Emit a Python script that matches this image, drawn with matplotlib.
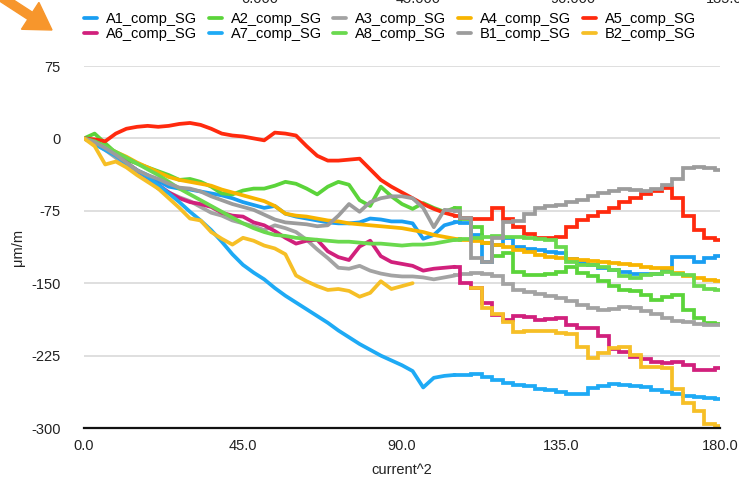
import numpy as np
import matplotlib
matplotlib.use("Agg")
import matplotlib.pyplot as plt
from matplotlib.patches import FancyArrow

plt.rcParams['font.family'] = ['Liberation Sans', 'DejaVu Sans']

# x values (current^2), one sample every 3 units
current_sq = np.arange(0, 181, 3)

A1 = [0, -4, -8, -19, -26, -33, -38, -44, -50, -52, -53, -55, -57, -59, -62, -66, -69, -72, -70, -78,
      -81, -83, -85, -87, -88, -88, -87, -83, -84, -86, -86, -88, -104, -100, -90, -87, -88, -100, -128, -110,
      -103, -112, -115, -116, -118, -119, -125, -129, -131, -134, -136, -138, -140, -140, -140, -136, -123, -123, -128, -124,
      -122]
A2 = [0, 5, -5, -15, -22, -26, -30, -34, -38, -43, -42, -45, -50, -57, -58, -54, -52, -52, -49, -45,
      -47, -52, -58, -50, -45, -48, -64, -70, -50, -60, -68, -73, -67, -72, -76, -72, -83, -92, -108, -122,
      -119, -138, -141, -141, -140, -138, -133, -139, -143, -148, -153, -157, -158, -162, -167, -164, -162, -178, -186, -191,
      -192]
A3 = [0, -5, -12, -20, -28, -35, -42, -52, -56, -61, -65, -71, -77, -80, -85, -88, -91, -95, -90, -93,
      -97, -105, -115, -124, -134, -135, -132, -137, -140, -142, -143, -143, -144, -146, -144, -142, -140, -139, -140, -143,
      -151, -157, -159, -161, -163, -165, -168, -173, -176, -178, -177, -175, -176, -179, -182, -186, -189, -190, -192, -193,
      -193]
A4 = [0, -4, -9, -14, -19, -25, -30, -35, -40, -43, -45, -47, -49, -53, -56, -59, -62, -65, -70, -78,
      -80, -81, -83, -85, -86, -88, -89, -90, -91, -92, -93, -95, -97, -100, -102, -104, -105, -106, -108, -110,
      -113, -116, -118, -121, -123, -124, -125, -126, -127, -128, -129, -130, -131, -133, -134, -134, -139, -143, -145, -147,
      -148]
A5 = [0, -1, -3, 5, 10, 12, 13, 12, 13, 15, 16, 14, 10, 5, 3, 2, 0, -2, 6, 5,
      3, -8, -18, -23, -23, -22, -21, -32, -43, -50, -56, -62, -68, -73, -77, -80, -82, -83, -84, -72,
      -84, -92, -99, -103, -103, -102, -92, -85, -80, -76, -72, -66, -62, -58, -55, -51, -62, -80, -95, -103,
      -105]
A6 = [0, -3, -11, -17, -25, -33, -40, -48, -56, -62, -66, -68, -71, -77, -80, -81, -87, -90, -96, -103,
      -109, -106, -105, -117, -123, -126, -112, -106, -122, -128, -130, -132, -137, -135, -134, -133, -150, -155, -170, -183,
      -188, -184, -185, -188, -187, -186, -193, -196, -196, -205, -218, -221, -226, -229, -232, -233, -232, -235, -240, -240,
      -238]
A7 = [0, -6, -12, -18, -26, -33, -40, -48, -57, -66, -76, -85, -95, -107, -120, -131, -139, -146, -155, -163,
      -170, -177, -184, -191, -199, -206, -213, -219, -225, -230, -235, -241, -258, -248, -246, -245, -245, -244, -247, -250,
      -253, -255, -257, -260, -261, -263, -265, -265, -259, -256, -254, -255, -256, -258, -261, -263, -265, -267, -268, -269,
      -270]
A8 = [0, -3, -8, -14, -20, -26, -32, -38, -45, -52, -58, -64, -70, -76, -82, -88, -93, -97, -100, -101,
      -103, -104, -105, -106, -107, -107, -108, -109, -109, -110, -111, -110, -110, -109, -107, -105, -104, -103, -102, -101,
      -102, -102, -103, -104, -105, -112, -128, -131, -131, -133, -136, -143, -145, -141, -140, -138, -140, -141, -153, -156,
      -157]
B1 = [0, -4, -10, -17, -25, -33, -38, -42, -47, -51, -52, -55, -60, -64, -68, -71, -74, -79, -84, -87,
      -88, -89, -91, -90, -80, -68, -76, -66, -62, -60, -60, -62, -72, -92, -74, -75, -82, -124, -128, -103,
      -87, -86, -78, -72, -70, -69, -66, -64, -60, -57, -55, -52, -53, -55, -52, -48, -42, -31, -30, -31,
      -33]
B2 = [0, -8, -27, -24, -30, -38, -45, -52, -62, -72, -83, -85, -97, -104, -110, -103, -106, -111, -114, -120,
      -142, -148, -153, -157, -156, -158, -164, -160, -148, -156, -153, -150, np.nan, np.nan, np.nan, np.nan, np.nan, -155, -176, -182,
      -190, -201, -199, -199, -200, -202, -203, -216, -228, -222, -217, -216, -224, -237, -237, -238, -260, -274, -282, -296,
      -298]

names = ['A1_comp_SG', 'A2_comp_SG', 'A3_comp_SG', 'A4_comp_SG', 'A5_comp_SG',
         'A6_comp_SG', 'A7_comp_SG', 'A8_comp_SG', 'B1_comp_SG', 'B2_comp_SG']
series = [A1, A2, A3, A4, A5, A6, A7, A8, B1, B2]
colors = ['#1A9EF2', '#5BD43A', '#A3A3A3', '#F8B400', '#FF2A0E',
          '#D1207C', '#1EAAF5', '#6AD94E', '#9C9C9C', '#F6BF26']

y_ticks = [-300, -225, -150, -75, 0, 75]
x_ticks = [0, 45, 90, 135, 180]
top_labels = ['0.000', '45.000', '90.000', '135.000']

fig = plt.figure(figsize=(7.39, 4.78), dpi=100)
ax = fig.add_axes([84 / 739, 1 - 428 / 478, (720 - 84) / 739, (428 - 66) / 478])

# the later part of the recording is coarser, so it is drawn as steps
split = 35
lines = {}
for name, vals, col in zip(names, series, colors):
    vals = np.array(vals, dtype=float)
    ln, = ax.plot(current_sq[:split + 1], vals[:split + 1], color=col, lw=2.7,
                  label=name, solid_joinstyle='round', solid_capstyle='round', zorder=3)
    ax.plot(current_sq[split:], vals[split:], color=col, lw=2.7, drawstyle='steps-mid',
            solid_joinstyle='miter', zorder=3)
    lines[name] = ln

ax.set_xlim(0, 180)
ax.set_ylim(-300, 75)
ax.set_yticks(y_ticks)
ax.set_yticklabels([str(v) for v in y_ticks])
ax.set_xticks(x_ticks)
ax.set_xticklabels(['%.1f' % v for v in x_ticks])
ax.tick_params(length=0, labelsize=10.5, colors='#222222')
ax.tick_params(axis='y', pad=17)
ax.tick_params(axis='x', pad=8)
ax.grid(axis='y', color='#d9d9d9', lw=1.2, zorder=0)
for s in ['top', 'right', 'left']:
    ax.spines[s].set_visible(False)
ax.spines['bottom'].set_color('#111111')
ax.spines['bottom'].set_linewidth(1.6)
ax.spines['bottom'].set_zorder(4)
ax.set_xlabel('current^2', fontsize=10.5, labelpad=7, color='#222222')
ax.set_ylabel('\u03bcm/m', fontsize=10.5, labelpad=4, color='#222222')

# legend is filled column by column, so order handles to read row by row
order = ['A1_comp_SG', 'A6_comp_SG', 'A2_comp_SG', 'A7_comp_SG', 'A3_comp_SG',
         'A8_comp_SG', 'A4_comp_SG', 'B1_comp_SG', 'A5_comp_SG', 'B2_comp_SG']
fig.legend([lines[n] for n in order], order, ncol=5, frameon=False,
           loc='upper left', bbox_to_anchor=(84 / 739, 1 - 12 / 478),
           fontsize=10.5, handlelength=0.9, handletextpad=0.6,
           columnspacing=0.8, labelspacing=0.05, borderpad=0, borderaxespad=0)

# clipped labels of the chart above this one
for lbl, xp in zip(top_labels, [260, 418, 573, 732]):
    fig.text(xp / 739, 1 - 3 / 478, lbl, ha='center', va='baseline',
             fontsize=10.5, color='#222222')

# orange pointer arrow at the top left
fig.add_artist(FancyArrow(-0.05, 4.85, 0.57, -0.37, width=0.085,
                          head_width=0.32, head_length=0.26,
                          length_includes_head=True, color='#F7962C',
                          transform=fig.dpi_scale_trans))

fig.savefig('out.png', dpi=100)
